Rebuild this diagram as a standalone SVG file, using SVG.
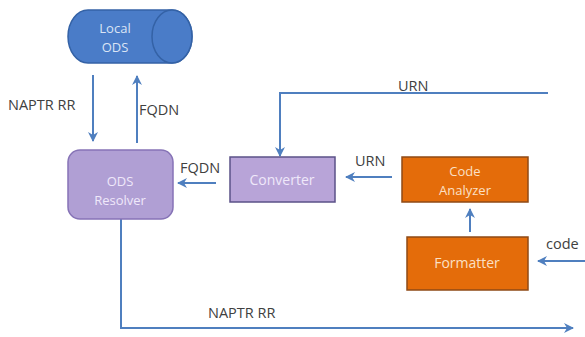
<svg xmlns="http://www.w3.org/2000/svg" width="585" height="337" viewBox="0 0 585 337">
  <defs>
    <marker id="arrow" viewBox="0 0 10 10" refX="9" refY="5" markerWidth="5" markerHeight="5" orient="auto" markerUnits="strokeWidth">
      <path d="M0,0 L10,5 L0,10 L3,5 Z" fill="#4f7fbf"/>
    </marker>
  </defs>
  <style>
    .lbl { font-family: "Open Sans", "Liberation Sans", sans-serif; font-size: 14.5px; fill: #404040; }
    .txt { font-family: "Open Sans", "Liberation Sans", sans-serif; font-size: 14px; text-anchor: middle; }
    .two { font-size: 13px; }
    .wire { fill: none; stroke: #4f7fbf; stroke-width: 2; }
    .arr { marker-end: url(#arrow); }
  </style>
  <rect width="585" height="337" fill="#ffffff"/>

  <!-- connectors -->
  <g id="connectors">
    <path class="wire arr" d="M93,75 V141"/>
    <path class="wire arr" d="M137,143 V76"/>
    <path class="wire arr" d="M216,183 H178"/>
    <path class="wire arr" d="M392,177 H346"/>
    <path class="wire arr" d="M548,93 H280 V156"/>
    <path class="wire arr" d="M470,232 V209"/>
    <path class="wire arr" d="M585,261 H538"/>
    <path class="wire arr" d="M121,219 V328 H573"/>
  </g>

  <!-- connector labels -->
  <g id="labels">
    <text class="lbl" x="8" y="110">NAPTR RR</text>
    <text class="lbl" x="139" y="115">FQDN</text>
    <text class="lbl" x="180" y="173">FQDN</text>
    <text class="lbl" x="355" y="166">URN</text>
    <text class="lbl" x="398" y="91">URN</text>
    <text class="lbl" x="546" y="249">code</text>
    <text class="lbl" x="208" y="318">NAPTR RR</text>
  </g>

  <!-- Local ODS: horizontal cylinder -->
  <g id="local-ods">
    <path d="M88,10 H172 A20,26.5 0 0 1 172,63 H88 A20,26.5 0 0 1 88,10 Z" fill="#4a7cc8" stroke="#3462a6" stroke-width="1.5"/>
    <ellipse cx="172" cy="36.5" rx="20" ry="26.5" fill="#4a7cc8" stroke="#3462a6" stroke-width="1.5"/>
    <text class="txt two" x="115" y="33" fill="#dbe4f5">Local</text>
    <text class="txt two" x="115" y="52" fill="#dbe4f5">ODS</text>
  </g>

  <!-- ODS Resolver -->
  <g id="ods-resolver">
    <rect x="68" y="150" width="105" height="69" rx="12" fill="#b09fd4" stroke="#8673b6" stroke-width="1.5"/>
    <text class="txt two" x="120" y="186" fill="#efe8fa">ODS</text>
    <text class="txt two" x="120" y="205" fill="#efe8fa">Resolver</text>
  </g>

  <!-- Converter -->
  <g id="converter">
    <rect x="230" y="157" width="105" height="45" fill="#b8a4d8" stroke="#5b5288" stroke-width="1.5"/>
    <text class="txt" x="282" y="185" fill="#efe8fa">Converter</text>
  </g>

  <!-- Code Analyzer -->
  <g id="code-analyzer">
    <rect x="402" y="157" width="126" height="45" fill="#e46c0a" stroke="#8f4a16" stroke-width="1.5"/>
    <text class="txt two" x="465" y="176" fill="#fbe0c6">Code</text>
    <text class="txt two" x="465" y="195" fill="#fbe0c6">Analyzer</text>
  </g>

  <!-- Formatter -->
  <g id="formatter">
    <rect x="407" y="237" width="121" height="53" fill="#e46c0a" stroke="#8f4a16" stroke-width="1.5"/>
    <text class="txt" x="467" y="268" fill="#fbe0c6">Formatter</text>
  </g>
</svg>
